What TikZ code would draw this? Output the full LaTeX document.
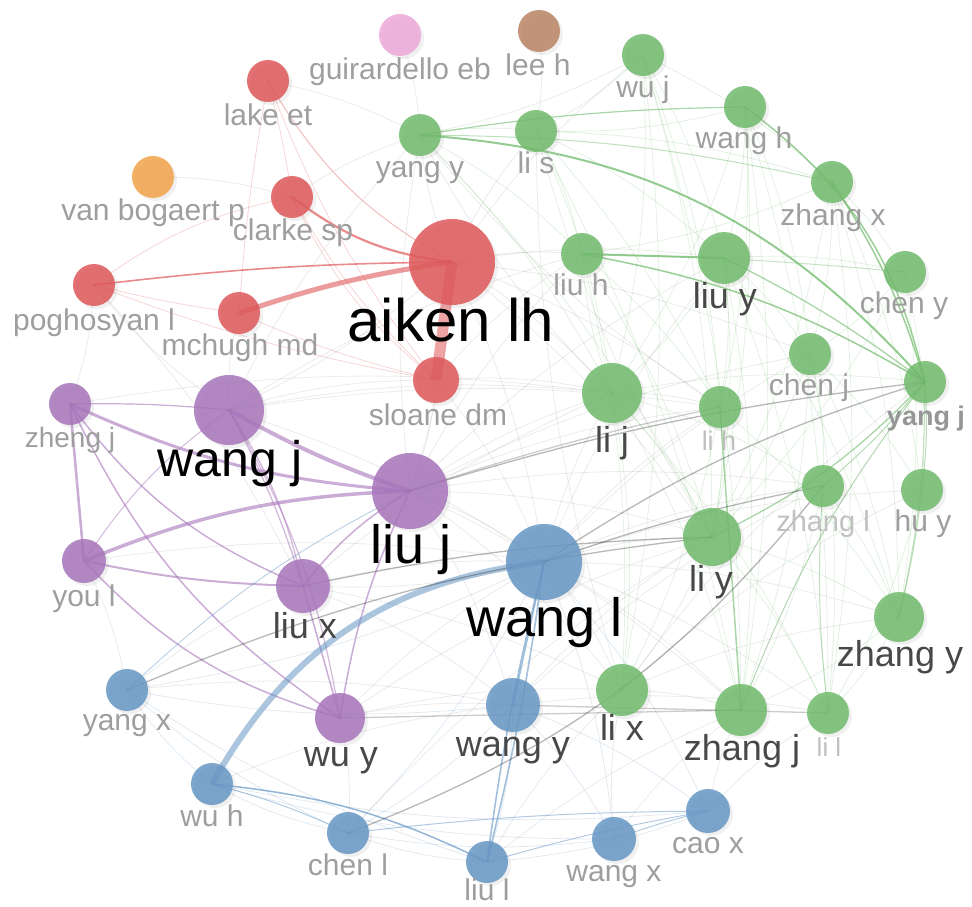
\documentclass[tikz,border=0pt]{standalone}
\usepackage{fontspec}
\setmainfont{Liberation Sans}
\usetikzlibrary{shadows}
\pgfdeclarelayer{bg}\pgfdeclarelayer{fg}
\pgfsetlayers{bg,main,fg}
\definecolor{cred}{RGB}{222,88,90}
\definecolor{cgreen}{RGB}{112,186,108}
\definecolor{cpurple}{RGB}{166,116,186}
\definecolor{cblue}{RGB}{102,150,196}
\definecolor{cpink}{RGB}{236,168,216}
\definecolor{cbrown}{RGB}{186,132,100}
\definecolor{corange}{RGB}{242,162,72}
\definecolor{lgS}{RGB}{158,158,158}
\definecolor{lgM}{RGB}{72,72,72}
\definecolor{lgF}{RGB}{192,192,192}
\tikzset{
  nd/.style={circle,inner sep=0pt,minimum size={2*#1},fill opacity=.85,draw=none,
     drop shadow={opacity=.12,shadow xshift=3pt,shadow yshift=-3pt}},
  lblS/.style={anchor=base,text=lgS,font=\fontsize{30}{30}\selectfont,inner sep=0pt},
  lblF/.style={anchor=base,text=lgF,font=\fontsize{27}{27}\selectfont,inner sep=0pt},
  lblM/.style={anchor=base,text=lgM,font=\fontsize{36}{36}\selectfont,inner sep=0pt},
  lblL/.style={anchor=base,text=black,font=\fontsize{54}{54}\selectfont,inner sep=0pt},
  fgrey/.style={draw=black,opacity=.08,line width=.8},
  fgreen/.style={draw=cgreen,opacity=.2,line width=.8},
  fblue/.style={draw=cblue,opacity=.2,line width=.8},
  fred/.style={draw=cred,opacity=.25,line width=.8},
  sgrey/.style={draw=black,opacity=.28,line width=1.3},
}
\begin{document}
\begin{tikzpicture}[x=1pt,y=-1pt]
\useasboundingbox (0,0) rectangle (972,907);
% ---------- nodes ----------
% red
\node[nd=43,fill=cred] (aiken) at (452,262) {};
\node[nd=21,fill=cred] (lake) at (268,81) {};
\node[nd=21,fill=cred] (clarke) at (292,197) {};
\node[nd=21,fill=cred] (pogh) at (94,285) {};
\node[nd=21,fill=cred] (mchugh) at (239,313) {};
\node[nd=23,fill=cred] (sloane) at (436,380) {};
\node[nd=21,fill=cpink] (guir) at (400,35) {};
\node[nd=21,fill=cbrown] (leeh) at (539,31) {};
\node[nd=21,fill=corange] (vanb) at (153,177) {};
% purple
\node[nd=35,fill=cpurple] (wangj) at (229,410) {};
\node[nd=21,fill=cpurple] (zhengj) at (70,404) {};
\node[nd=38,fill=cpurple] (liuj) at (410,491) {};
\node[nd=22,fill=cpurple] (youl) at (84,561) {};
\node[nd=27,fill=cpurple] (liux) at (303,586) {};
\node[nd=25,fill=cpurple] (wuy) at (340,718) {};
% blue
\node[nd=38,fill=cblue] (wangl) at (544,562) {};
\node[nd=21,fill=cblue] (yangx) at (127,690) {};
\node[nd=21,fill=cblue] (wuh) at (212,784) {};
\node[nd=21,fill=cblue] (chenl) at (348,833) {};
\node[nd=21,fill=cblue] (liul) at (487,862) {};
\node[nd=27,fill=cblue] (wangy) at (513,705) {};
\node[nd=22,fill=cblue] (wangx) at (614,839) {};
\node[nd=22,fill=cblue] (caox) at (708,811) {};
% green
\node[nd=21,fill=cgreen] (yangy) at (420,135) {};
\node[nd=21,fill=cgreen] (lis) at (536,131) {};
\node[nd=21,fill=cgreen] (wuj) at (643,55) {};
\node[nd=21,fill=cgreen] (wangh) at (745,107) {};
\node[nd=21,fill=cgreen] (zhangx) at (832,182) {};
\node[nd=21,fill=cgreen] (liuh) at (582,254) {};
\node[nd=26,fill=cgreen] (liuy) at (724,258) {};
\node[nd=21,fill=cgreen] (cheny) at (905,272) {};
\node[nd=21,fill=cgreen] (chenj) at (810,354) {};
\node[nd=21,fill=cgreen] (yangj) at (925,382) {};
\node[nd=30,fill=cgreen] (lij) at (612,393) {};
\node[nd=21,fill=cgreen] (lih) at (720,407) {};
\node[nd=21,fill=cgreen] (zhangl) at (823,486) {};
\node[nd=21,fill=cgreen] (huy) at (922,490) {};
\node[nd=29,fill=cgreen] (liy) at (712,537) {};
\node[nd=25,fill=cgreen] (zhangy) at (899,617) {};
\node[nd=26,fill=cgreen] (lix) at (622,690) {};
\node[nd=26,fill=cgreen] (zhangj) at (741,710) {};
\node[nd=21,fill=cgreen] (lil) at (828,713) {};
% ---------- edges ----------
\begin{pgfonlayer}{bg}
% faint grey web
\foreach \a/\b in {aiken/liuh,aiken/liuy,aiken/lij,aiken/lih,aiken/chenj,aiken/liuj,aiken/wangj,aiken/wangl,aiken/liy,aiken/yangy,aiken/lis,aiken/wuj,
  liuj/lij,liuj/lih,liuj/liy,liuj/zhangl,liuj/liuy,liuj/liuh,liuj/wangy,liuj/lix,liuj/zhangj,liuj/chenj,liuj/yangy,liuj/wangl,
  wangl/lij,wangl/liy,wangl/zhangl,wangl/huy,wangl/zhangy,wangl/lix,wangl/zhangj,wangl/lil,wangl/chenj,wangl/lih,wangl/liuy,wangl/liux,
  wangj/lij,wangj/liuh,wangj/wangl,wangj/yangy,wangj/lih,wangj/sloane,wangj/pogh,wangj/mchugh,
  liux/lij,liux/wangy,liux/lix,liux/wangl,wuy/wangl,wuy/lix,wuy/wangy,wuy/liy,wuy/chenl,
  sloane/lij,sloane/liuj,sloane/wangl,sloane/liuh,pogh/zhengj,pogh/liux,
  zhengj/lij,youl/wangl,youl/yangx,yangx/wangy,yangx/liux,
  wangy/liy,wangy/zhangl,wangy/lil,lix/zhangy,lix/yangj,lix/huy,zhangj/yangj,
  lij/yangy,lih/yangy,liy/lis,lix/lis,vanb/clarke,guir/yangy,leeh/lis,lake/yangy,clarke/yangy,
  liul/lix,liul/zhangj,wangx/lix,wangx/zhangj,caox/zhangj,caox/lil,chenl/liy,wuh/wangy}
  \draw[fgrey] (\a.center) to[bend left=8] (\b.center);
% faint green web
\foreach \a/\b in {wuj/liy,wuj/lij,wuj/lih,wuj/liuy,wuj/zhangj,wuj/zhangx,wuj/lis,wuj/yangy,wuj/lix,
  wangh/liuy,wangh/liy,wangh/lij,wangh/zhangj,wangh/lil,wangh/chenj,wangh/lis,wangh/lih,
  lis/liuh,lis/liuy,lis/lij,lis/zhangx,lis/lih,lis/zhangj,
  zhangx/cheny,zhangx/zhangy,zhangx/lil,zhangx/liy,zhangx/huy,zhangx/chenj,zhangx/liuh,
  liuy/lih,liuy/liy,liuy/zhangy,liuy/zhangj,liuy/lil,liuy/chenj,liuy/lij,liuy/cheny,
  cheny/huy,cheny/zhangy,cheny/chenj,cheny/liy,
  lij/liy,lij/lix,lij/zhangj,lij/lil,lij/zhangl,lij/yangj,lij/liuh,lij/lih,
  chenj/zhangl,chenj/huy,chenj/zhangy,chenj/lil,chenj/liy,chenj/zhangj,
  yangy/liuh,yangy/lij,yangy/liy,yangy/lis,liuh/liy,liuh/lih,liuh/lix,
  lih/liy,lih/lix,lih/zhangy,liy/zhangy,liy/lil,liy/lix,zhangl/zhangy,zhangl/zhangj,huy/lil,zhangy/lil,zhangy/zhangj,lix/zhangj}
  \draw[fgreen] (\a.center) to[bend left=8] (\b.center);
% faint blue web
\foreach \a/\b in {yangx/wuh,yangx/chenl,yangx/wangy,yangx/liul,yangx/wangl,wuh/chenl,wuh/wangx,wuh/caox,
  chenl/liul,chenl/wangx,chenl/wangy,chenl/wangl,liul/caox,liul/wangy,wangx/wangy,wangx/wangl,caox/wangl,caox/wangy}
  \draw[fblue] (\a.center) to[bend right=8] (\b.center);
% red edges
\draw[cred,opacity=.55,line width=11] (aiken.center) -- (sloane.center);
\draw[cred,opacity=.6,line width=5] (mchugh.center) to[bend left=5] (aiken.center);
\draw[cred,opacity=.7,line width=2.2] (clarke.center) to[bend right=15] (aiken.center);
\draw[cred,opacity=.7,line width=1.6] (pogh.center) to[bend left=3] (aiken.center);
\draw[cred,opacity=.4,line width=1] (lake.center) to[bend right=15] (aiken.center);
\draw[fred] (lake.center) to[bend left=3] (clarke.center);
\draw[fred] (lake.center) to[bend right=3] (mchugh.center);
\draw[fred] (lake.center) to[bend right=8] (sloane.center);
\draw[fred] (clarke.center) to[bend right=8] (sloane.center);
\draw[fred] (clarke.center) to[bend right=12] (sloane.center);
\draw[fred] (pogh.center) to[bend right=5] (sloane.center);
\draw[fred] (pogh.center) to[bend right=3] (mchugh.center);
\draw[fred] (mchugh.center) to[bend right=5] (sloane.center);
\draw[fred] (clarke.center) to[bend right=12] (pogh.center);
% purple edges
\draw[cpurple,opacity=.6,line width=4] (wangj.center) to[bend right=5] (liuj.center);
\draw[cpurple,opacity=.6,line width=3] (zhengj.center) to[bend right=10] (liuj.center);
\draw[cpurple,opacity=.6,line width=2.5] (zhengj.center) -- (youl.center);
\draw[cpurple,opacity=.6,line width=1.2] (zhengj.center) to[bend left=3] (wangj.center);
\draw[cpurple,opacity=.6,line width=1.5] (zhengj.center) to[bend right=15] (liux.center);
\draw[cpurple,opacity=.6,line width=1.5] (zhengj.center) to[bend right=15] (wuy.center);
\draw[cpurple,opacity=.6,line width=3.5] (youl.center) to[bend left=10] (liuj.center);
\draw[cpurple,opacity=.6,line width=2] (youl.center) to[bend right=5] (liux.center);
\draw[cpurple,opacity=.6,line width=1.5] (youl.center) to[bend right=15] (wuy.center);
\draw[cpurple,opacity=.5,line width=1] (youl.center) to[bend left=10] (wangj.center);
\draw[cpurple,opacity=.5,line width=1.3] (wangj.center) to[bend left=5] (liux.center);
\draw[cpurple,opacity=.5,line width=1.3] (wangj.center) to[bend left=10] (liux.center);
\draw[cpurple,opacity=.5,line width=1.2] (wangj.center) to[bend left=10] (wuy.center);
\draw[cpurple,opacity=.6,line width=1.5] (liuj.center) to[bend right=10] (liux.center);
\draw[cpurple,opacity=.6,line width=1.5] (liuj.center) to[bend right=8] (wuy.center);
\draw[cpurple,opacity=.6,line width=1.5] (liux.center) -- (wuy.center);
% blue edges
\draw[cblue,opacity=.55,line width=6] (wuh.center) to[bend left=27] (wangl.center);
\draw[cblue,opacity=.6,line width=1.6] (wangl.center) to[bend right=3] (liul.center);
\draw[cblue,opacity=.6,line width=1.6] (wangl.center) to[bend left=3] (liul.center);
\draw[cblue,opacity=.6,line width=1.5] (wangl.center) -- (wangy.center);
\draw[cblue,opacity=.7,line width=1.5] (wuh.center) to[bend left=10] (liul.center);
\draw[cblue,opacity=.5,line width=1] (wuh.center) to[bend left=5] (chenl.center);
\draw[cblue,opacity=.5,line width=1] (chenl.center) to[bend left=3] (caox.center);
\draw[cblue,opacity=.5,line width=1] (liul.center) to[bend left=3] (caox.center);
\draw[cblue,opacity=.5,line width=1] (wangx.center) to[bend left=3] (caox.center);
\draw[cblue,opacity=.45,line width=.9] (yangx.center) to[bend left=8] (liuj.center);
% green edges
\draw[cgreen,opacity=.75,line width=2] (yangy.center) to[bend left=22] (yangj.center);
\draw[cgreen,opacity=.6,line width=1.2] (yangy.center) to[bend left=4] (wangh.center);
\draw[cgreen,opacity=.45,line width=1] (yangy.center) to[bend left=6] (zhangx.center);
\draw[cgreen,opacity=.7,line width=1.5] (wangh.center) to[bend left=20] (yangj.center);
\draw[cgreen,opacity=.7,line width=1.5] (zhangx.center) to[bend left=8] (yangj.center);
\draw[cgreen,opacity=.7,line width=2] (liuh.center) -- (liuy.center);
\draw[cgreen,opacity=.7,line width=1.5] (liuh.center) to[bend left=10] (yangj.center);
\draw[cgreen,opacity=.6,line width=1.3] (liuy.center) to[bend left=5] (yangj.center);
\draw[cgreen,opacity=.4,line width=1] (liuh.center) to[bend left=2] (cheny.center);
\draw[cgreen,opacity=.6,line width=1.5] (lih.center) -- (zhangj.center);
\draw[cgreen,opacity=.6,line width=1.3] (liy.center) to[bend right=10] (yangj.center);
\draw[cgreen,opacity=.5,line width=1] (zhangl.center) to[bend right=5] (yangj.center);
\draw[cgreen,opacity=.5,line width=1] (yangj.center) to[bend left=5] (huy.center);
\draw[cgreen,opacity=.5,line width=1] (huy.center) to[bend left=3] (zhangy.center);
\draw[cgreen,opacity=.4,line width=1] (yangj.center) to[bend left=6] (zhangy.center);
\draw[cgreen,opacity=.45,line width=1] (zhangl.center) to[bend right=5] (lil.center);
\draw[cgreen,opacity=.45,line width=1] (yangj.center) to[bend right=8] (zhangj.center);
% grey stronger edges
\draw[sgrey] (liuj.center) to[bend left=5] (yangj.center);
\draw[sgrey] (wangl.center) to[bend left=8] (yangj.center);
\draw[sgrey] (wangl.center) to[bend left=4] (zhangl.center);
\draw[sgrey] (liux.center) to[bend left=5] (liy.center);
\draw[sgrey] (yangx.center) to[bend left=8] (liy.center);
\draw[sgrey] (chenl.center) to[bend right=15] (zhangl.center);
\draw[sgrey,opacity=.2] (wuy.center) -- (zhangj.center);
\draw[sgrey,opacity=.2] (wangy.center) -- (lil.center);
\draw[sgrey,opacity=.2] (liuj.center) to[bend left=3] (lih.center);
\end{pgfonlayer}
% ---------- labels ----------
\begin{pgfonlayer}{fg}
\node[lblL,font=\fontsize{60}{60}\selectfont] (t-aiken) at (451,341) {aiken lh};
\node[lblL,font=\fontsize{50}{50}\selectfont] (t-wangj) at (230,476) {wang j};
\node[lblL] (t-liuj) at (411,563) {liu j};
\node[lblL] (t-wangl) at (545,636) {wang l};
\node[lblM] (t-liuy) at (725,308) {liu y};
\node[lblM] (t-lij) at (612,452) {li j};
\node[lblM] (t-liy) at (711,591) {li y};
\node[lblM] (t-liux) at (305,638) {liu x};
\node[lblM] (t-wuy) at (341,766) {wu y};
\node[lblM] (t-wangy) at (513,756) {wang y};
\node[lblM] (t-lix) at (622,740) {li x};
\node[lblM] (t-zhangj) at (742,760) {zhang j};
\node[lblM] (t-zhangy) at (900,666) {zhang y};
\node[lblS] (t-lake) at (268,125) {lake et};
\node[lblS] (t-guir) at (400,80) {guirardello eb};
\node[lblS] (t-leeh) at (538,75) {lee h};
\node[lblS] (t-vanb) at (153,220) {van bogaert p};
\node[lblS] (t-clarke) at (293,240) {clarke sp};
\node[lblS] (t-pogh) at (94,330) {poghosyan l};
\node[lblS] (t-mchugh) at (240,355) {mchugh md};
\node[lblS] (t-sloane) at (438,425) {sloane dm};
\node[lblS,font=\fontsize{28}{28}\selectfont] (t-zhengj) at (70,447) {zheng j};
\node[lblS] (t-yangy) at (420,177) {yang y};
\node[lblS] (t-lis) at (536,173) {li s};
\node[lblS] (t-wuj) at (643,98) {wu j};
\node[lblS] (t-wangh) at (744,148) {wang h};
\node[lblS] (t-zhangx) at (833,225) {zhang x};
\node[lblS] (t-liuh) at (581,295) {liu h};
\node[lblS] (t-cheny) at (904,313) {chen y};
\node[lblS] (t-chenj) at (809,395) {chen j};
\node[lblS,font=\bfseries\fontsize{27}{27}\selectfont,text={rgb,255:red,150;green,150;blue,150}] (t-yangj) at (926,425) {yang j};
\node[lblF] (t-lih) at (719,450) {li h};
\node[lblF,font=\fontsize{29}{29}\selectfont] (t-zhangl) at (823,531) {zhang l};
\node[lblS] (t-huy) at (923,531) {hu y};
\node[lblF,font=\fontsize{26}{26}\selectfont] (t-lil) at (829,756) {li l};
\node[lblS] (t-youl) at (84,606) {you l};
\node[lblS] (t-yangx) at (127,730) {yang x};
\node[lblS] (t-wuh) at (212,826) {wu h};
\node[lblS] (t-chenl) at (348,875) {chen l};
\node[lblS] (t-liul) at (487,900) {liu l};
\node[lblS] (t-wangx) at (614,881) {wang x};
\node[lblS] (t-caox) at (708,853) {cao x};
\end{pgfonlayer}
\end{tikzpicture}
\end{document}
